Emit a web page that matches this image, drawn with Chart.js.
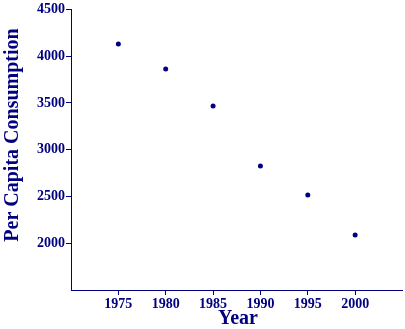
<!DOCTYPE html>
<html>
<head>
<meta charset="utf-8">
<script src="https://cdn.jsdelivr.net/npm/chart.js@4/dist/chart.umd.min.js"></script>
<style>
html,body{margin:0;padding:0;background:#fff;}
#wrap{width:405px;height:329px;position:relative;}
</style>
</head>
<body>
<div id="wrap"><canvas id="c" width="405" height="329"></canvas></div>
<script>
const years = [1975, 1980, 1985, 1990, 1995, 2000];
const consumption = [4130, 3862, 3468, 2825, 2515, 2088];
const xTicks = [1975, 1980, 1985, 1990, 1995, 2000];
const yTicks = [2000, 2500, 3000, 3500, 4000, 4500];
const xTitle = 'Year';
const yTitle = 'Per Capita Consumption';

const NAVY = '#000080';
const serif = "'Liberation Serif', 'DejaVu Serif', serif";

const titlePlugin = {
  id: 'axisTitles',
  afterDraw(chart) {
    const ctx = chart.ctx;
    const ca = chart.chartArea;
    ctx.save();
    ctx.fillStyle = NAVY;
    ctx.font = "bold 20px " + serif;
    ctx.textAlign = 'center';
    ctx.textBaseline = 'middle';
    ctx.fillText(xTitle, 238, 319);
    ctx.translate(13, 135);
    ctx.rotate(-Math.PI / 2);
    ctx.fillText(yTitle, 0, 0);
    ctx.restore();
  }
};

new Chart(document.getElementById('c'), {
  type: 'scatter',
  data: {
    datasets: [{
      data: years.map((y, i) => ({x: y, y: consumption[i]})),
      backgroundColor: NAVY,
      borderColor: NAVY,
      pointRadius: 2.5,
      pointHoverRadius: 2.5,
      borderWidth: 0
    }]
  },
  options: {
    responsive: false,
    animation: false,
    devicePixelRatio: 1,
    layout: {padding: {top: 9, right: 1, left: 0, bottom: 0}},
    plugins: {legend: {display: false}, tooltip: {enabled: false}},
    scales: {
      x: {
        type: 'linear',
        min: 1970,
        max: 2005,
        afterBuildTicks: s => { s.ticks = xTicks.map(v => ({value: v})); },
        afterFit: s => { s.height = 39; },
        grid: {display: true, drawOnChartArea: false, drawTicks: true, tickLength: 5, color: NAVY, lineWidth: 1},
        border: {display: true, color: NAVY, width: 1},
        ticks: {color: NAVY, font: {family: serif, size: 14, weight: 'bold'}, padding: 1, maxRotation: 0, autoSkip: false, callback: v => String(v)}
      },
      y: {
        type: 'linear',
        min: 1500,
        max: 4500,
        afterBuildTicks: s => { s.ticks = yTicks.map(v => ({value: v})); },
        afterFit: s => { s.width = 71; },
        grid: {display: true, drawOnChartArea: false, drawTicks: true, tickLength: 5, color: NAVY, lineWidth: 1},
        border: {display: true, color: NAVY, width: 1},
        ticks: {color: NAVY, font: {family: serif, size: 14, weight: 'bold'}, padding: 1, autoSkip: false, callback: v => String(v)}
      }
    }
  },
  plugins: [titlePlugin]
});
</script>
</body>
</html>
